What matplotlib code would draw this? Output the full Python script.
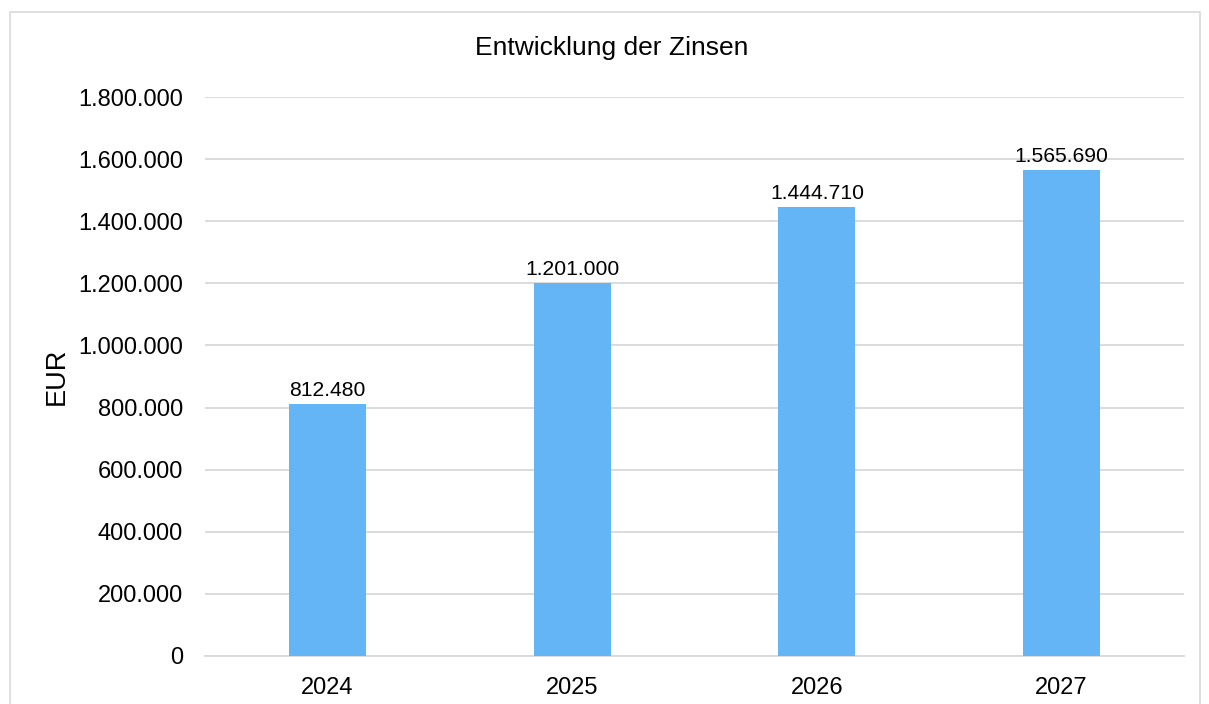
import matplotlib.pyplot as plt
from matplotlib.patches import Rectangle
from matplotlib.ticker import FuncFormatter, MultipleLocator

years = ["2024", "2025", "2026", "2027"]
zinsen = [812480, 1201000, 1444710, 1565690]

plt.rcParams['font.family'] = ['Liberation Sans', 'DejaVu Sans']


def de_format(v, pos=None):
    return f"{int(round(v)):,}".replace(",", ".")


fig = plt.figure(figsize=(12.09, 7.04), dpi=100, facecolor='white')
ax = fig.add_axes([0.1696, 0.0682, 0.8097, 0.794])

x = range(len(years))
bars = ax.bar(x, zinsen, width=0.315, color='#64B5F6', zorder=3)

for b, v in zip(bars, zinsen):
    ax.annotate(de_format(v), (b.get_x() + b.get_width() / 2, v),
                xytext=(0, 3), textcoords='offset points',
                ha='center', va='bottom', fontsize=15.2, color='black', zorder=4)

ax.set_xlim(-0.5, len(years) - 0.5)
ax.set_ylim(0, 1800000)
ax.yaxis.set_major_locator(MultipleLocator(200000))
ax.yaxis.set_major_formatter(FuncFormatter(de_format))
ax.set_xticks(list(x))
ax.set_xticklabels(years)

ax.grid(axis='y', color='#d9d9d9', linewidth=1.3, zorder=0)
for s in ['top', 'right', 'left']:
    ax.spines[s].set_visible(False)
ax.spines['bottom'].set_color('#d9d9d9')
ax.spines['bottom'].set_linewidth(1.3)
ax.tick_params(axis='both', length=0, labelsize=17, colors='black')
ax.tick_params(axis='y', pad=16)
ax.tick_params(axis='x', pad=15)

ax.set_ylabel("EUR", fontsize=19.5)
ax.yaxis.set_label_coords(-0.1385, 0.5)

# title is centred on the whole chart area, not on the plot
fig.text(612 / 1209, 1 - 48 / 704, "Entwicklung der Zinsen", fontsize=19,
         ha='center', va='center')

fig.patches.append(Rectangle((10 / 1209, -0.05), 1190 / 1209, 1 - 12 / 704 + 0.05,
                             transform=fig.transFigure, fill=False,
                             edgecolor='#d9d9d9', linewidth=1.2))

plt.savefig("out.png", dpi=100, facecolor='white')
plt.close()
